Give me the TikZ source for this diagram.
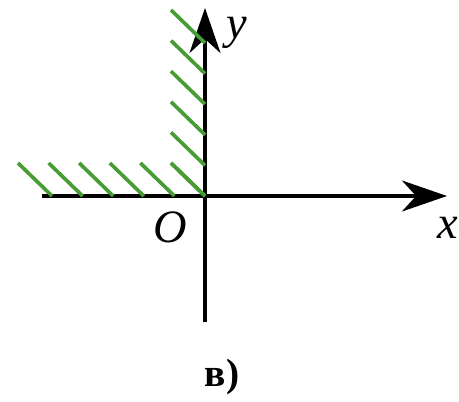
\documentclass[tikz,border=0pt]{standalone}
\usepackage{fontspec}
\setmainfont{Liberation Serif}
\usepackage{xcolor}
\usepackage{tikz}
\usetikzlibrary{arrows.meta,positioning}
\definecolor{hatchgreen}{RGB}{72,156,52}

\begin{document}
\begin{tikzpicture}[x=0.025cm, y=0.025cm,
  >={Stealth[length=32pt, width=22pt, inset=10pt]},
  axis/.style={line width=2.7pt},
  hatch/.style={line width=2.6pt, hatchgreen},
  lbl/.style={font=\fontsize{33}{33}\selectfont\itshape, inner sep=0pt},
  partlbl/.style={font=\fontsize{28}{28}\selectfont\bfseries, inner sep=0pt}]

  \useasboundingbox (-205,-205) rectangle (254,196);

  % Axes
  \coordinate (O) at (0,0);
  \coordinate (xL) at (-163,0);
  \coordinate (xR) at (242,0);
  \coordinate (yB) at (0,-126);
  \coordinate (yT) at (0,188);
  \draw[axis, ->] (xL) -- (xR);
  \draw[axis, ->] (yB) -- (yT);

  % Hatching
  \foreach \i in {0,...,5} {
    \draw[hatch] (-30.6*\i,0) -- ++(-34,33);
    \draw[hatch] (0,30.6*\i) -- ++(-34,33);
  }

  % Labels
  \node[lbl] (xlab) at (243,-32) {x};
  \node[lbl] (ylab) at (32,163) {y};
  \node[lbl] (olab) at (-35,-31) {O};
  \node[partlbl] (part) at (17,-181) {в)};
\end{tikzpicture}
\end{document}
